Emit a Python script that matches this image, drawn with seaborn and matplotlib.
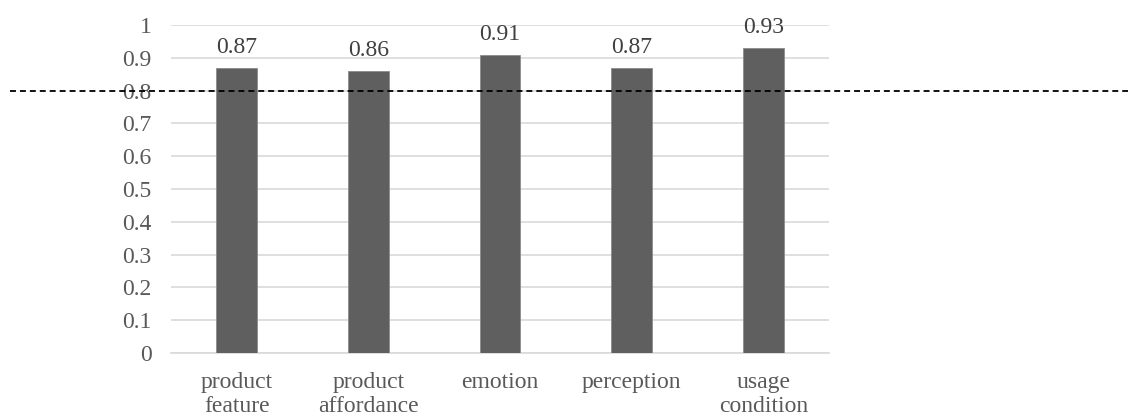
import pandas as pd
import matplotlib.pyplot as plt
import seaborn as sns

categories = ['product\nfeature', 'product\naffordance', 'emotion', 'perception', 'usage\ncondition']
values = [0.87, 0.86, 0.91, 0.87, 0.93]
yticks = [0, 0.1, 0.2, 0.3, 0.4, 0.5, 0.6, 0.7, 0.8, 0.9, 1]
ytick_labels = ['0', '0.1', '0.2', '0.3', '0.4', '0.5', '0.6', '0.7', '0.8', '0.9', '1']
threshold = 0.8

df = pd.DataFrame({'category': categories, 'value': values})

sns.set_style('white')
plt.rcParams['font.family'] = ['Liberation Serif', 'DejaVu Serif']

fig = plt.figure(figsize=(11.28, 4.18), dpi=100)
ax = fig.add_axes([0.1516, 0.1555, 0.735 - 0.1516, 0.940 - 0.1555])

sns.barplot(data=df, x='category', y='value', color='#5f5f5f', width=0.31,
            edgecolor='#8c8c8c', linewidth=0.6, saturation=1, ax=ax, zorder=3)

ax.set_ylim(0, 1)
ax.set_xlim(-0.5, len(categories) - 0.5)
ax.set_yticks(yticks)
ax.set_yticklabels(ytick_labels)
ax.yaxis.grid(True, color='#d9d9d9', linewidth=1.2, zorder=0)
ax.set_axisbelow(True)
for s in ['top', 'right', 'left']:
    ax.spines[s].set_visible(False)
ax.spines['bottom'].set_color('#d9d9d9')
ax.spines['bottom'].set_linewidth(1.2)
ax.tick_params(axis='both', length=0, labelsize=17, labelcolor='#595959')
ax.tick_params(axis='y', pad=14)
ax.tick_params(axis='x', pad=14)
for lbl in ax.get_xticklabels():
    lbl.set_linespacing(1.15)
ax.set_xlabel('')
ax.set_ylabel('')

# value labels
for i, v in enumerate(values):
    ax.annotate(f'{v:.2f}', (i, v), xytext=(0, 7), textcoords='offset points',
                ha='center', va='bottom', fontsize=17, color='#404040')

# dashed threshold line across the whole figure
y_fig = fig.transFigure.inverted().transform(ax.transData.transform((0, threshold)))[1]
fig.add_artist(plt.Line2D([0.009, 1.0], [y_fig, y_fig], transform=fig.transFigure,
                          color='black', linestyle=(0, (3.3, 2.2)), linewidth=1.3, zorder=10))

plt.savefig('out.png', dpi=100)
